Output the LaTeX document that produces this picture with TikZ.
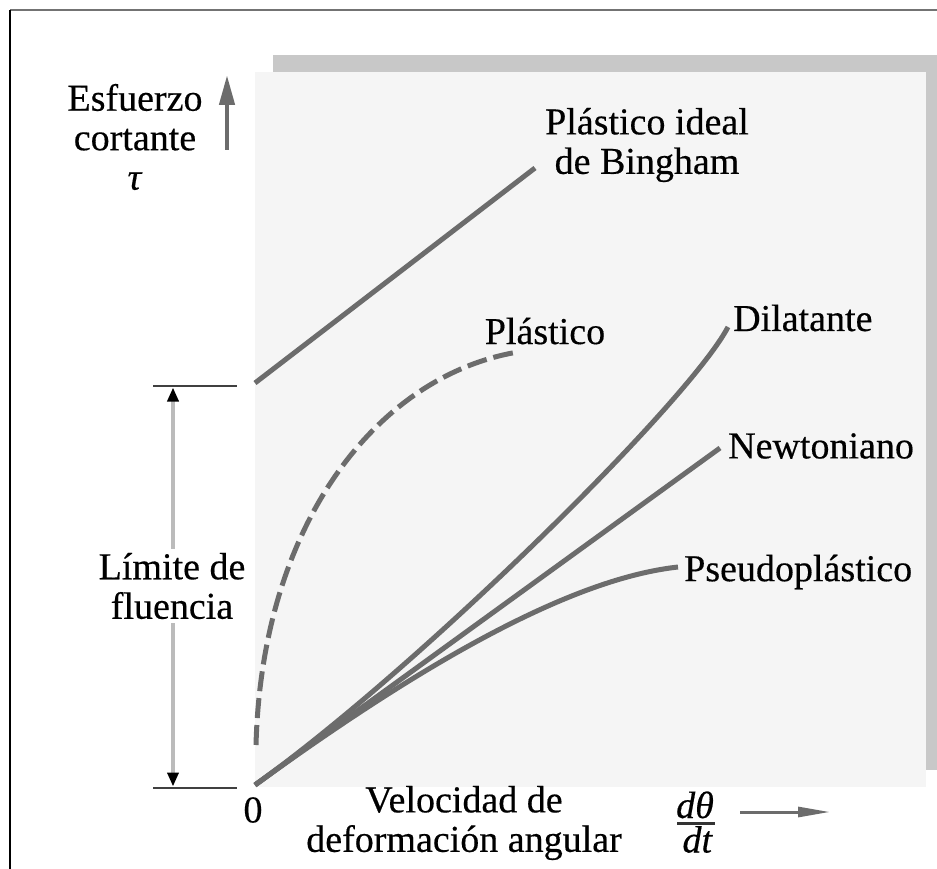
\documentclass[tikz,border=0pt]{standalone}
\usepackage{fontspec}
\setmainfont{Liberation Serif}
\newfontfamily\lblfont{Liberation Serif}[FakeBold=0.4]
\usetikzlibrary{arrows.meta}
\definecolor{curvegray}{HTML}{6C6C6C}
\definecolor{panel}{HTML}{F5F5F5}
\definecolor{shadow}{HTML}{C8C8C8}
\definecolor{dimgray}{HTML}{BBBBBB}
\tikzset{
  curve/.style={draw=curvegray, line width=5pt},
  dashcurve/.style={curve, dash pattern=on 20pt off 7pt},
  lbl/.style={font=\lblfont\fontsize{38}{39.5}\selectfont, inner sep=0pt, text=black},
  tick/.style={draw=black!75, line width=2.2pt},
  axarrow/.style={draw=curvegray, line width=4.5pt, -{Triangle[length=30pt,width=15pt]}},
  dimarrow/.style={draw=dimgray, line width=4pt, {Triangle[length=14pt,width=11pt,color=black]}-{Triangle[length=14pt,width=11pt,color=black]}}
}
\begin{document}
\begin{tikzpicture}[x=1pt,y=-1pt]
\useasboundingbox (0,0) rectangle (937,869);
% frame
\draw[draw=gray!90!black, line width=2pt] (10,10) -- (937,10);
\draw[draw=black, line width=1.5pt] (10,10) -- (10,869);
% shadow and panel
\fill[shadow] (273,55) rectangle (937,770);
\fill[panel] (255,72) rectangle (926,787);
% key points
\coordinate (O) at (255,785);
\coordinate (B0) at (255,383);
\coordinate (B1) at (535,168);
\coordinate (P0) at (256,745);
\coordinate (P1) at (518,352);
\coordinate (D1) at (728,327);
\coordinate (N1) at (720,448);
\coordinate (S1) at (678,567);
% curves
\draw[curve] (B0) -- (B1);
\draw[dashcurve] (P0) .. controls (262,520) and (380,375) .. (P1);
\draw[curve] (O) .. controls (420,667) and (690,400) .. (D1);
\draw[curve] (O) -- (N1);
\draw[curve] (O) .. controls (400,680) and (560,580) .. (S1);
% yield limit
\coordinate (T1a) at (153,386); \coordinate (T1b) at (237,386);
\coordinate (T2a) at (153,788); \coordinate (T2b) at (237,788);
\draw[tick] (T1a) -- (T1b);
\draw[tick] (T2a) -- (T2b);
\coordinate (Y1) at (173,387.5); \coordinate (Y2) at (173,786.5);
\draw[dimarrow] (Y1) -- (Y2);
\node[lbl, fill=white, align=center, inner sep=4pt] (lim) at (172,586) {Límite de\\fluencia};
% axes arrows
\coordinate (YA0) at (227,150); \coordinate (YA1) at (227,75);
\draw[axarrow] (YA0) -- (YA1);
\coordinate (XA0) at (740,812); \coordinate (XA1) at (830,812);
\draw[axarrow, line width=3pt, -{Triangle[length=32pt,width=10pt]}] (XA0) -- (XA1);
% labels
\node[lbl, align=center] (ylab) at (135,137) {Esfuerzo\\cortante\\\textit{τ}};
\node[lbl, align=center] (bing) at (647,145) {Plástico ideal\\de Bingham};
\node[lbl] (plas) at (545,331) {Plástico};
\node[lbl, anchor=west] (dil) at (733,318) {Dilatante};
\node[lbl, anchor=west] (newt) at (728,446) {Newtoniano};
\node[lbl, anchor=west] (pseu) at (684,572) {Pseudoplástico};
\node[lbl] (zero) at (253,810) {0};
\node[lbl, align=center] (xlab) at (464,823) {Velocidad de\\deformación angular};
\node[lbl, anchor=base west] (frac) at (676,818) {\begin{tabular}[t]{@{}l@{}}\textit{dθ}\\[-5pt]\,\textit{dt}\end{tabular}};
\coordinate (R0) at (677,823); \coordinate (R1) at (715,823);
\draw[draw=black!80, line width=3pt] (R0) -- (R1);
\end{tikzpicture}
\end{document}
